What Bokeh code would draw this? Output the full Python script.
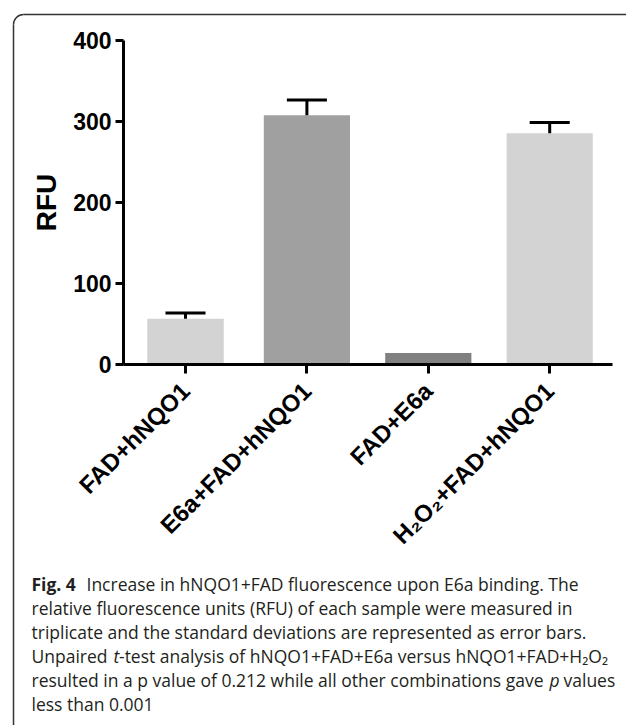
import math
from bokeh.plotting import figure
from bokeh.models import ColumnDataSource, Range1d, LinearAxis, FixedTicker, Label
from bokeh.embed import file_html
from bokeh.resources import INLINE

# ---------------- data ----------------
categories = ["FAD+hNQO1", "E6a+FAD+hNQO1", "FAD+E6a", "H\u2082O\u2082+FAD+hNQO1"]
rfu_mean = [57, 308, 14.5, 286]
rfu_sd = [7, 19, 0, 13]
y_ticks = [0, 100, 200, 300, 400]
y_label = "RFU"

# ---------------- style ----------------
bar_colors = ["#d3d3d3", "#a0a0a0", "#808080", "#d3d3d3"]
bar_widths = [0.63, 0.71, 0.71, 0.71]
cap_half = 0.165

W, H = 626, 725
X0, XS = 185.0, 121.4     # px of category 0, px per category
Y0, YS = 364.3, 0.81      # px of value 0, px per RFU unit


def xd(px):  # picture px -> data x
    return (px - X0) / XS


def yd(py):  # picture py -> data y
    return (Y0 - py) / YS


p = figure(width=W, height=H, x_range=Range1d(xd(0), xd(W)),
           y_range=Range1d(yd(H), yd(0)),
           x_axis_location=None, y_axis_location=None,
           toolbar_location=None, output_backend="svg", min_border=0)
p.outline_line_color = None
p.background_fill_color = "white"
p.border_fill_color = "white"
for g in p.grid:
    g.visible = False

xs = list(range(len(categories)))
src = ColumnDataSource(dict(x=xs, top=rfu_mean, w=bar_widths, c=bar_colors))
p.vbar(x="x", top="top", width="w", bottom=0, fill_color="c", line_color=None,
       source=src)

ex = [x for x, s in zip(xs, rfu_sd) if s > 0]
elo = [m for m, s in zip(rfu_mean, rfu_sd) if s > 0]
ehi = [m + s for m, s in zip(rfu_mean, rfu_sd) if s > 0]
p.segment(x0=ex, y0=elo, x1=ex, y1=ehi, line_color="black", line_width=3)
p.segment(x0=[x - cap_half for x in ex], y0=ehi, x1=[x + cap_half for x in ex],
          y1=ehi, line_color="black", line_width=3)

# axes
yax = LinearAxis(fixed_location=xd(123), bounds=(0, 400),
                 ticker=FixedTicker(ticks=y_ticks), axis_label=y_label)
yax.axis_line_width = 3
yax.major_tick_line_width = 3
yax.major_tick_in = 0
yax.major_tick_out = 8
yax.minor_tick_line_color = None
yax.major_label_text_font = "Liberation Sans"
yax.major_label_text_font_style = "bold"
yax.major_label_text_font_size = "23px"
yax.major_label_text_color = "black"
yax.major_label_standoff = 4
yax.axis_label_text_font = "Liberation Sans"
yax.axis_label_text_font_style = "bold"
yax.axis_label_text_font_size = "28px"
yax.axis_label_text_color = "black"
yax.axis_label_standoff = 8
p.add_layout(yax, "left")

xax = LinearAxis(fixed_location=0, bounds=(xd(123), xd(612)),
                 ticker=FixedTicker(ticks=xs))
xax.major_label_overrides = {i: c for i, c in enumerate(categories)}
xax.major_label_orientation = math.pi / 4
xax.axis_line_width = 3
xax.major_tick_line_width = 3
xax.major_tick_in = 0
xax.major_tick_out = 9
xax.minor_tick_line_color = None
xax.major_label_text_font = "Liberation Sans"
xax.major_label_text_font_style = "bold"
xax.major_label_text_font_size = "24px"
xax.major_label_text_color = "black"
xax.major_label_standoff = 13
p.add_layout(xax, "below")

# rounded frame around figure and caption (only top-left part is in view)
frame_col = "#333333"
p.arc(x=xd(23), y=yd(24), radius=10, radius_units="screen",
      start_angle=math.pi / 2, end_angle=math.pi, line_color=frame_col,
      line_width=1.5)
p.segment(x0=[xd(23), xd(13)], y0=[yd(14), yd(24)], x1=[xd(640), xd(13)],
          y1=[yd(14), yd(740)], line_color=frame_col, line_width=1.5)

# caption
cap_font = "Open Sans"
cap_size = "17.5px"
base = [583, 607, 631, 655, 679, 703]
segments = [
    (0, 31, "Fig. 4", "bold"),
    (0, 86, "Increase in hNQO1+FAD fluorescence upon E6a binding. The", "normal"),
    (1, 31, "relative fluorescence units (RFU) of each sample were measured in", "normal"),
    (2, 31, "triplicate and the standard deviations are represented as error bars.", "normal"),
    (3, 31, "Unpaired", "normal"),
    (3, 113, "t", "italic"),
    (3, 118.5, "-test analysis of hNQO1+FAD+E6a versus hNQO1+FAD+H\u2082O\u2082", "normal"),
    (4, 31, "resulted in a p value of 0.212 while all other combinations gave", "normal"),
    (4, 549, "p", "italic"),
    (4, 563, "values", "normal"),
    (5, 31, "less than 0.001", "normal"),
]
for line, x, txt, style in segments:
    p.add_layout(Label(x=xd(x), y=yd(base[line]), text=txt, text_font=cap_font,
                       text_font_size=cap_size, text_font_style=style,
                       text_color="#231f20", text_baseline="alphabetic",
                       text_align="left"))

open("out.html", "w").write(file_html(p, INLINE))
